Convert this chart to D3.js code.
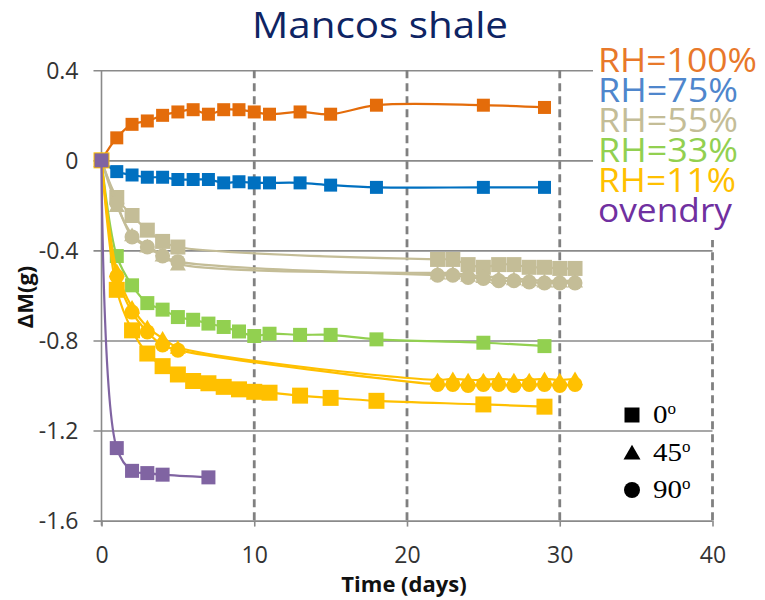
<!DOCTYPE html>
<html>
<head>
<meta charset="utf-8">
<script src="https://cdn.jsdelivr.net/npm/d3@7/dist/d3.min.js"></script>
<style>
  body { margin: 0; background: #ffffff; }
  svg { display: block; }
</style>
</head>
<body>
<svg id="chart" width="765" height="600"></svg>
<script>
// ---- data -------------------------------------------------------------
const xTicks = [0, 10, 20, 30, 40];
const yTicks = [0.4, 0, -0.4, -0.8, -1.2, -1.6];
const yTickLabels = ["0.4", "0", "-0.4", "-0.8", "-1.2", "-1.6"];

const daysFull    = [0, 1, 2, 3, 4, 5, 6, 7, 8, 9, 10, 11, 13, 15, 18, 25, 29];
const daysSplit   = [0, 1, 2, 3, 4, 5, 22, 23, 24, 25, 26, 27, 28, 29, 30, 31];
const daysOvendry = [0, 1, 2, 3, 4, 7];

// mass change ΔM (g)
const rh100_0 = [0, 0.10, 0.16, 0.175, 0.20, 0.215, 0.225, 0.205, 0.225, 0.225, 0.215, 0.205, 0.215, 0.205, 0.245, 0.245, 0.235];
const rh75_0  = [0, -0.05, -0.065, -0.075, -0.075, -0.085, -0.085, -0.085, -0.10, -0.095, -0.10, -0.10, -0.10, -0.11, -0.12, -0.12, -0.12];
const rh55_0  = [0, -0.165, -0.245, -0.31, -0.36, -0.385, -0.44, -0.44, -0.463, -0.475, -0.463, -0.463, -0.475, -0.475, -0.48, -0.48];
const rh55_45 = [0, -0.20, -0.33, -0.38, -0.42, -0.46, -0.50, -0.50, -0.51, -0.515, -0.52, -0.525, -0.53, -0.535, -0.535, -0.535];
const rh55_90 = [0, -0.19, -0.34, -0.385, -0.425, -0.45, -0.51, -0.51, -0.52, -0.525, -0.535, -0.535, -0.54, -0.545, -0.545, -0.545];
const rh33_0  = [0, -0.425, -0.555, -0.634, -0.663, -0.696, -0.708, -0.725, -0.74, -0.76, -0.78, -0.77, -0.775, -0.775, -0.795, -0.81, -0.825];
const rh11_0  = [0, -0.575, -0.755, -0.858, -0.914, -0.951, -0.98, -0.99, -1.006, -1.017, -1.028, -1.032, -1.045, -1.055, -1.068, -1.084, -1.094];
const rh11_45 = [0, -0.49, -0.652, -0.74, -0.79, -0.83, -0.975, -0.97, -0.975, -0.975, -0.97, -0.975, -0.975, -0.97, -0.975, -0.97];
const rh11_90 = [0, -0.515, -0.674, -0.762, -0.82, -0.843, -0.995, -0.995, -1.0, -0.995, -0.995, -1.0, -0.995, -0.995, -1.0, -0.995];
const ovendry_0 = [0, -1.278, -1.379, -1.389, -1.396, -1.408];

const rhLabels = ["RH=100%", "RH=75%", "RH=55%", "RH=33%", "RH=11%", "ovendry"];
const angleLabels = ["0", "45", "90"];

// ---- styling ----------------------------------------------------------
const C = {
  rh100: "#E46C0A", rh75: "#0070C0", rh55: "#C4BD97",
  rh33: "#92D050", rh11: "#FFC000", oven: "#8064A2"
};
const legendColors = ["#E8782A", "#4F86CC", "#C4BD97", "#92D050", "#FFC000", "#7030A0"];
const legendWidths = [159, 140, 140, 140, 138, 134];

const series = [
  { days: daysFull,    values: rh100_0,   color: C.rh100, shape: "square",   size: 13 },
  { days: daysFull,    values: rh75_0,    color: C.rh75,  shape: "square",   size: 13 },
  { days: daysSplit,   values: rh55_0,    color: C.rh55,  shape: "square",   size: 15 },
  { days: daysSplit,   values: rh55_45,   color: C.rh55,  shape: "triangle", size: 16 },
  { days: daysSplit,   values: rh55_90,   color: C.rh55,  shape: "circle",   size: 15 },
  { days: daysFull,    values: rh33_0,    color: C.rh33,  shape: "square",   size: 14 },
  { days: daysFull,    values: rh11_0,    color: C.rh11,  shape: "square",   size: 16 },
  { days: daysSplit,   values: rh11_45,   color: C.rh11,  shape: "triangle", size: 16 },
  { days: daysSplit,   values: rh11_90,   color: C.rh11,  shape: "circle",   size: 15 },
  { days: daysOvendry, values: ovendry_0, color: C.oven,  shape: "square",   size: 14 }
];

// ---- layout -----------------------------------------------------------
const svg = d3.select("#chart");
const plot = { left: 101.5, right: 712.5, top: 70.3, bottom: 520.6 };

const x = d3.scaleLinear().domain([0, 40]).range([plot.left, plot.right]);
const y = d3.scaleLinear().domain([-1.6, 0.4]).range([plot.bottom, plot.top]);

const gridColor = "#8A8A8A";

// horizontal gridlines with outward ticks on the left
const yAxis = d3.axisLeft(y).tickValues(yTicks)
  .tickSize(-(plot.right - plot.left)).tickFormat((d, i) => yTickLabels[i]);
const gy = svg.append("g").attr("transform", `translate(${plot.left},0)`).call(yAxis);
gy.select(".domain").remove();
gy.selectAll(".tick line").attr("stroke", gridColor).attr("stroke-width", 1.6).attr("x1", -8);
gy.selectAll(".tick text")
  .attr("font-family", "'Open Sans', sans-serif").attr("font-size", 23).attr("fill", "#333")
  .attr("dy", "0.35em").attr("x", -23);

// vertical dashed gridlines
svg.append("g").selectAll("line").data(xTicks.filter(d => d > 0)).join("line")
  .attr("x1", d => x(d)).attr("x2", d => x(d))
  .attr("y1", plot.top).attr("y2", plot.bottom)
  .attr("stroke", "#808080").attr("stroke-width", 2.8).attr("stroke-dasharray", "8,5");

// left axis line
svg.append("line")
  .attr("x1", plot.left).attr("x2", plot.left).attr("y1", plot.top).attr("y2", plot.bottom + 5)
  .attr("stroke", gridColor).attr("stroke-width", 1.6);

// bottom axis ticks and labels
const xAxis = d3.axisBottom(x).tickValues(xTicks).tickSize(6).tickPadding(20).tickFormat(d3.format("d"));
const gx = svg.append("g").attr("transform", `translate(0,${plot.bottom})`).call(xAxis);
gx.select(".domain").remove();
gx.selectAll(".tick line").attr("stroke", gridColor).attr("stroke-width", 1.6);
gx.selectAll(".tick text")
  .attr("font-family", "'Open Sans', sans-serif").attr("font-size", 23).attr("fill", "#333");

// axis titles
svg.append("text").attr("x", 404).attr("y", 592).attr("text-anchor", "middle")
  .attr("font-family", "'Open Sans', sans-serif").attr("font-weight", "bold")
  .attr("font-size", 22).attr("fill", "#111").text("Time (days)");
svg.append("text").attr("transform", "translate(33,297) rotate(-90)").attr("text-anchor", "middle")
  .attr("font-family", "'Open Sans', sans-serif").attr("font-weight", "bold")
  .attr("font-size", 22).attr("fill", "#111").text("ΔM(g)");

// title
svg.append("text").attr("x", 380).attr("y", 38).attr("text-anchor", "middle")
  .attr("font-family", "'Open Sans', sans-serif").attr("font-size", 37)
  .attr("textLength", 256).attr("lengthAdjust", "spacingAndGlyphs")
  .attr("fill", "#0E2463").text("Mancos shale");

// ---- series -----------------------------------------------------------
const line = d3.line().curve(d3.curveCatmullRom.alpha(0.5));
const shapeType = { square: d3.symbolSquare, triangle: d3.symbolTriangle, circle: d3.symbolCircle };
function symbolArea(shape, s) {
  if (shape === "square") return s * s;
  if (shape === "circle") return Math.PI * s * s / 4;
  return Math.sqrt(3) / 4 * s * s;
}

const gSeries = svg.append("g");
series.forEach(s => {
  const pts = s.days.map((d, i) => [x(d), y(s.values[i])]);
  const g = gSeries.append("g");
  g.append("path").attr("d", line(pts)).attr("fill", "none")
    .attr("stroke", s.color).attr("stroke-width", 2.2);
  const sym = d3.symbol().type(shapeType[s.shape]).size(symbolArea(s.shape, s.size));
  g.selectAll("path.m").data(pts).join("path").attr("class", "m")
    .attr("transform", p => `translate(${p[0]},${p[1] + (s.shape === "triangle" ? 2 : 0)})`)
    .attr("d", sym).attr("fill", s.color);
});

// ---- RH legend --------------------------------------------------------
svg.append("rect").attr("x", 593).attr("y", 38).attr("width", 172).attr("height", 202).attr("fill", "#fff");
svg.append("g").selectAll("text").data(rhLabels).join("text")
  .attr("x", 598).attr("y", (d, i) => 71.5 + i * 30)
  .attr("font-family", "'Open Sans', sans-serif").attr("font-size", 32)
  .attr("textLength", (d, i) => legendWidths[i]).attr("lengthAdjust", "spacingAndGlyphs")
  .attr("fill", (d, i) => legendColors[i]).text(d => d);

// ---- orientation legend -------------------------------------------------
const angleShapes = ["square", "triangle", "circle"];
const angleSizes = [15, 17, 16];
const ag = svg.append("g");
angleLabels.forEach((lab, i) => {
  const cy = 415 + i * 37.5;
  ag.append("path")
    .attr("transform", `translate(632,${cy + (i === 1 ? 2 : 0)})`)
    .attr("d", d3.symbol().type(shapeType[angleShapes[i]]).size(symbolArea(angleShapes[i], angleSizes[i])))
    .attr("fill", "#000");
  const t = ag.append("text").attr("x", 653).attr("y", cy + 8)
    .attr("font-family", "'Liberation Serif', 'Times New Roman', serif").attr("font-size", 25).attr("fill", "#000");
  t.append("tspan").attr("textLength", lab.length * 14.5).attr("lengthAdjust", "spacingAndGlyphs").text(lab);
  t.append("tspan").attr("dy", -9).attr("font-size", 17).text("o");
});
</script>
</body>
</html>
